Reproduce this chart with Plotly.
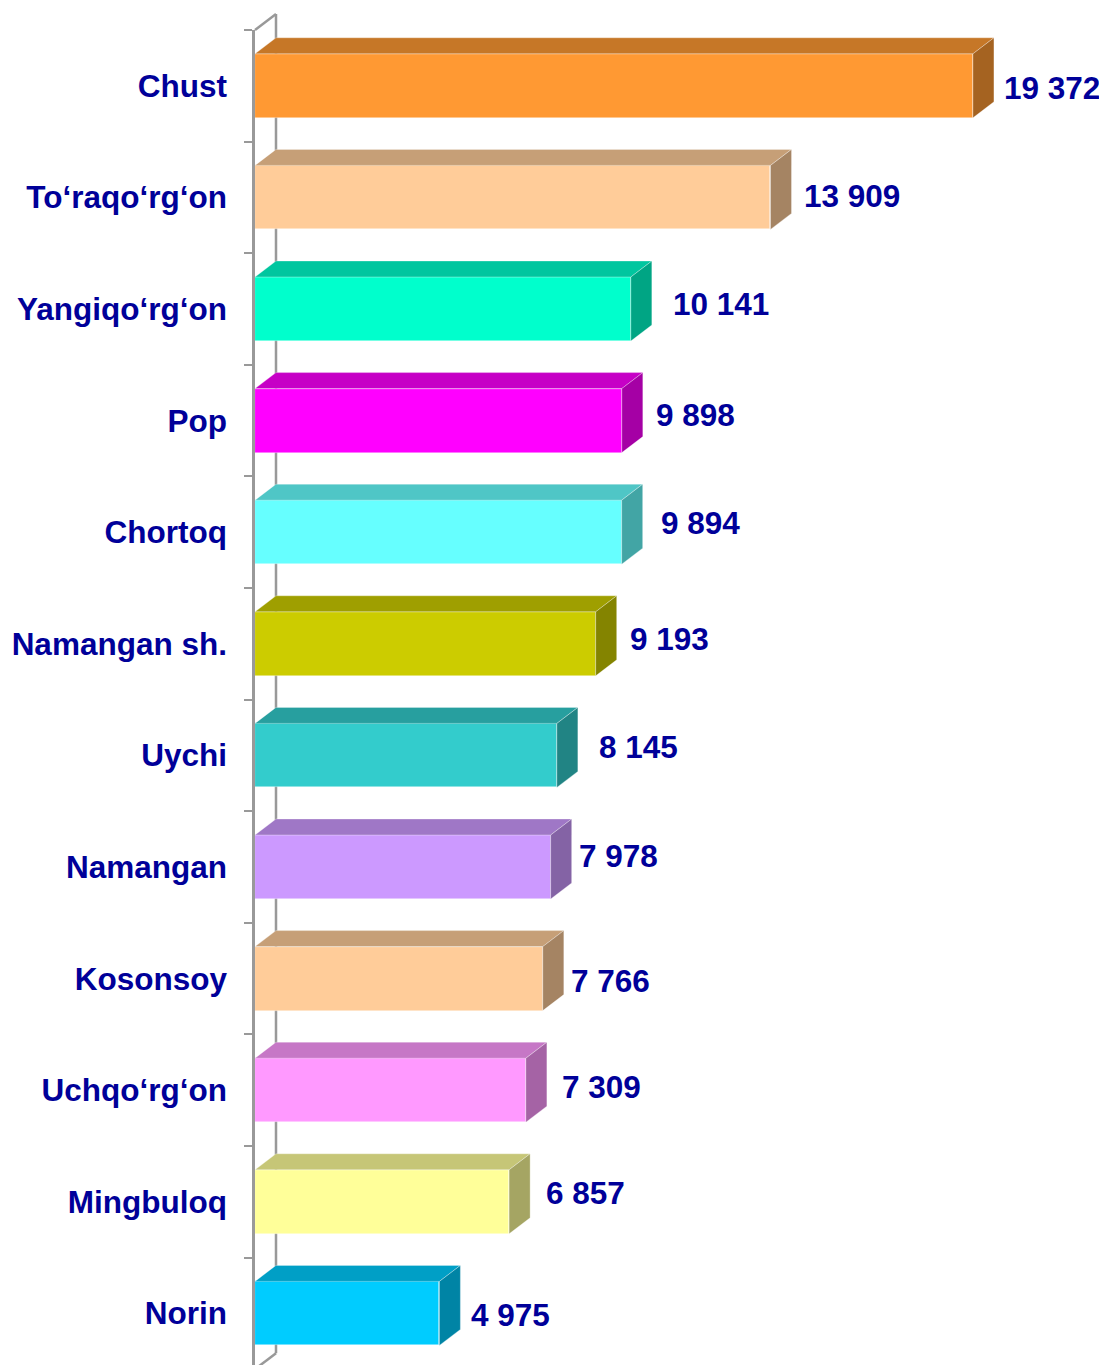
import plotly.graph_objects as go

categories = ["Chust", "To‘raqo‘rg‘on", "Yangiqo‘rg‘on", "Pop", "Chortoq", "Namangan sh.",
              "Uychi", "Namangan", "Kosonsoy", "Uchqo‘rg‘on", "Mingbuloq", "Norin"]
values = [19372, 13909, 10141, 9898, 9894, 9193, 8145, 7978, 7766, 7309, 6857, 4975]
value_labels = ["19 372", "13 909", "10 141", "9 898", "9 894", "9 193",
                "8 145", "7 978", "7 766", "7 309", "6 857", "4 975"]

# styling
front_colors = ["#FF9933", "#FFCC99", "#00FFCC", "#FF00FF", "#66FFFF", "#CCCC00",
                "#33CCCC", "#CC99FF", "#FFCC99", "#FF99FF", "#FFFF99", "#00CCFF"]
label_gap_px = [11, 14, 22, 14, 19, 14, 22, 8, 8, 16, 17, 12]
label_dy_px = [-2, 1, 5, 6, 9, 5, 8, 11, -2, 3, 9, -2]

TEXT = "#000099"
AXIS = "#999999"
PAGE_OFFSET = 8  # default body margin of the html page
W, H = 1107 - PAGE_OFFSET, 1365 - PAGE_OFFSET
L, T = 255 - PAGE_OFFSET, 30 - PAGE_OFFSET
PX_PER_UNIT = 0.03706
BAND = 111.6
DEPTH_X_PX, DEPTH_Y_PX = 21, 16
BAR_W = 64 / BAND

x_max = (W - L) / PX_PER_UNIT
y_bottom = -0.5 + (H - T) / BAND
dx = DEPTH_X_PX / PX_PER_UNIT
dy = DEPTH_Y_PX / BAND


def shade(hexc, f):
    h = hexc.lstrip("#")
    r, g, b = (int(h[i:i + 2], 16) for i in (0, 2, 4))
    return "#%02X%02X%02X" % (int(r * f), int(g * f), int(b * f))


def ypaper(y):
    return (y_bottom - y) / (y_bottom + 0.5)


idx = list(range(len(categories)))
n = len(categories)
fig = go.Figure()
fig.add_trace(go.Bar(
    y=idx, x=values, orientation="h", width=BAR_W,
    marker=dict(color=front_colors, line=dict(width=0.6, color="rgba(255,255,255,0.6)")),
    hoverinfo="skip", showlegend=False,
))

shapes = []
# back wall line and top/bottom diagonals (paper refs so they are not clipped)
xb = dx / x_max
shapes.append(dict(type="line", xref="paper", yref="paper", x0=xb, x1=xb,
                   y0=ypaper(-0.5 - dy), y1=ypaper(n - 0.5 - dy),
                   line=dict(color=AXIS, width=2.5), layer="below"))
shapes.append(dict(type="line", xref="paper", yref="paper", x0=0, x1=xb,
                   y0=1, y1=ypaper(-0.5 - dy), line=dict(color=AXIS, width=2.5), layer="below"))
shapes.append(dict(type="line", xref="paper", yref="paper", x0=0, x1=xb,
                   y0=ypaper(n - 0.5), y1=ypaper(n - 0.5 - dy),
                   line=dict(color=AXIS, width=2.5), layer="below"))

for i, (v, c) in enumerate(zip(values, front_colors)):
    yt = i - BAR_W / 2
    yb = i + BAR_W / 2
    top = f"M 0 {yt} L {v} {yt} L {v + dx} {yt - dy} L {dx} {yt - dy} Z"
    side = f"M {v} {yt} L {v} {yb} L {v + dx} {yb - dy} L {v + dx} {yt - dy} Z"
    shapes.append(dict(type="path", xref="x", yref="y", path=top, fillcolor=shade(c, 0.78),
                       line=dict(width=0.6, color="rgba(255,255,255,0.5)"), layer="above"))
    shapes.append(dict(type="path", xref="x", yref="y", path=side, fillcolor=shade(c, 0.65),
                       line=dict(width=0.6, color="rgba(255,255,255,0.5)"), layer="above"))

annotations = []
for i, (v, t) in enumerate(zip(values, value_labels)):
    annotations.append(dict(
        x=v, y=i, xref="x", yref="y", text=t, showarrow=False,
        xanchor="left", yanchor="middle",
        xshift=DEPTH_X_PX + label_gap_px[i] - 3, yshift=label_dy_px[i],
        font=dict(family="Liberation Sans, Arial", size=31.5, color=TEXT, weight="bold"),
    ))

fig.update_layout(
    width=W, height=H,
    margin=dict(l=L, r=0, t=T, b=0, pad=0),
    paper_bgcolor="white", plot_bgcolor="rgba(0,0,0,0)",
    shapes=shapes, annotations=annotations,
    bargap=0,
    xaxis=dict(range=[0, x_max], visible=False, fixedrange=True),
    yaxis=dict(
        range=[y_bottom, -0.5],
        tickmode="array", tickvals=idx, ticktext=categories,
        ticks="", showgrid=False, zeroline=False,
        showline=True, linecolor=AXIS, linewidth=2.5,
        ticklabelstandoff=19,
        tickfont=dict(family="Liberation Sans, Arial", size=31.5, color=TEXT, weight="bold"),
        minor=dict(tickvals=[k - 0.5 for k in range(n + 1)],
                   ticks="outside", ticklen=8, tickcolor=AXIS, tickwidth=2, showgrid=False),
        fixedrange=True,
    ),
)

fig.write_html("out.html")
